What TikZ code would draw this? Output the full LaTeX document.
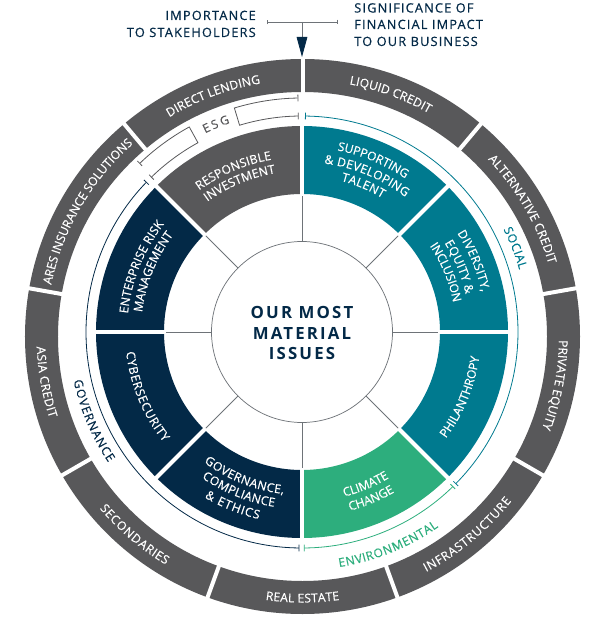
\documentclass[tikz,border=0pt]{standalone}
\usepackage{fontspec}
\setmainfont{Open Sans}
\newfontfamily\ringfont[FakeBold=.35]{Open Sans}
\newfontfamily\widefont[LetterSpace=9,FakeBold=.5]{Open Sans}
\newfontfamily\middlefont[LetterSpace=13]{Open Sans}
\usetikzlibrary{arrows.meta,calc,decorations.text}
\definecolor{ringgrey}{RGB}{88,88,90}
\definecolor{issueteal}{RGB}{0,122,143}
\definecolor{issuenavy}{RGB}{3,41,71}
\definecolor{issuegreen}{RGB}{45,174,125}
\definecolor{spokegrey}{RGB}{110,115,120}
\tikzset{
	ringgap/.style={draw=white,line width=3},
	spoke/.style={draw=spokegrey,line width=.55},
	rangeline/.style={line width=.6},
	headtext/.style={text=issuenavy,font=\widefont\fontsize{9.6}{14}\selectfont,inner sep=0pt},
	centertext/.style={text=issuenavy,font=\middlefont\bfseries\fontsize{12.6}{15.6}\selectfont,align=center,inner sep=0pt},
}
\newcommand{\arclabel}[6]{\path[decorate,decoration={text effects along path,text={#6},text effects/.cd,text along path,fit text to path,characters={text=#5,font=\ringfont\fontsize{9.1}{9}\selectfont}}] (#1) ++(#3:#2) arc[start angle=#3,end angle=#4,radius=#2];}
\begin{document}
\begin{tikzpicture}[x=.75pt,y=.75pt]
		\useasboundingbox (-302,-299) rectangle (298,332);
		\coordinate (inner) at (0,0);
		\coordinate (outer) at (.5,-4.5);

		% funds
		\fill[ringgrey,even odd rule] (outer) circle[radius=277.5] (outer) circle[radius=244.5];
		\draw[ringgap] ($(outer)+(90:240)$) -- ($(outer)+(90:282)$);
		\draw[ringgap] ($(outer)+(50:240)$) -- ($(outer)+(50:282)$);
		\draw[ringgap] ($(outer)+(10:240)$) -- ($(outer)+(10:282)$);
		\draw[ringgap] ($(outer)+(-30:240)$) -- ($(outer)+(-30:282)$);
		\draw[ringgap] ($(outer)+(-70:240)$) -- ($(outer)+(-70:282)$);
		\draw[ringgap] ($(outer)+(-110:240)$) -- ($(outer)+(-110:282)$);
		\draw[ringgap] ($(outer)+(-150:240)$) -- ($(outer)+(-150:282)$);
		\draw[ringgap] ($(outer)+(170:240)$) -- ($(outer)+(170:282)$);
		\draw[ringgap] ($(outer)+(130:240)$) -- ($(outer)+(130:282)$);

		\arclabel{outer}{256.5}{79.5}{60.5}{white}{LIQUID CREDIT}
		\arclabel{outer}{256.5}{43.7}{16.4}{white}{ALTERNATIVE CREDIT}
		\arclabel{outer}{256.5}{-.8}{-21}{white}{PRIVATE EQUITY}
		\arclabel{outer}{266}{-62.3}{-38.2}{white}{INFRASTRUCTURE}
		\arclabel{outer}{266}{-98}{-82}{white}{REAL ESTATE}
		\arclabel{outer}{266}{-139.7}{-120.9}{white}{SECONDARIES}
		\arclabel{outer}{266}{182.2}{197.9}{white}{ASIA CREDIT}
		\arclabel{outer}{256.5}{168.4}{131.3}{white}{ARES INSURANCE SOLUTIONS}
		\arclabel{outer}{256.5}{121.3}{99.4}{white}{DIRECT LENDING}

		% issues
		\fill[ringgrey] (135:206) arc[start angle=135,end angle=90,radius=206] -- (90:138) arc[start angle=90,end angle=135,radius=138] -- cycle;
		\fill[issueteal] (90:206) arc[start angle=90,end angle=-45,radius=206] -- (-45:138) arc[start angle=-45,end angle=90,radius=138] -- cycle;
		\fill[issuegreen] (-45:206) arc[start angle=-45,end angle=-90,radius=206] -- (-90:138) arc[start angle=-90,end angle=-45,radius=138] -- cycle;
		\fill[issuenavy] (-90:206) arc[start angle=-90,end angle=-225,radius=206] -- (-225:138) arc[start angle=-225,end angle=-90,radius=138] -- cycle;
		\draw[ringgap] (90:134) -- (90:209);
		\draw[ringgap] (45:134) -- (45:209);
		\draw[ringgap] (0:134) -- (0:209);
		\draw[ringgap] (-45:134) -- (-45:209);
		\draw[ringgap] (-90:134) -- (-90:209);
		\draw[ringgap] (-135:134) -- (-135:209);
		\draw[ringgap] (180:134) -- (180:209);
		\draw[ringgap] (135:134) -- (135:209);

		\draw[spoke] (90:90.5) -- (90:136);
		\draw[spoke] (45:90.5) -- (45:136);
		\draw[spoke] (0:90.5) -- (0:136);
		\draw[spoke] (-45:90.5) -- (-45:136);
		\draw[spoke] (-90:90.5) -- (-90:136);
		\draw[spoke] (-135:90.5) -- (-135:136);
		\draw[spoke] (180:90.5) -- (180:136);
		\draw[spoke] (135:90.5) -- (135:136);
		\draw[spoke] (inner) circle[radius=90.5];

		\arclabel{inner}{175}{126}{100}{white}{RESPONSIBLE}
		\arclabel{inner}{161}{126}{99.5}{white}{INVESTMENT}
		\arclabel{inner}{185}{79}{56}{white}{SUPPORTING}
		\arclabel{inner}{170}{82.5}{52.5}{white}{{\&} DEVELOPING}
		\arclabel{inner}{156}{75.5}{59}{white}{TALENT}
		\arclabel{inner}{184}{32.5}{12.5}{white}{DIVERSITY,}
		\arclabel{inner}{168}{32}{13}{white}{EQUITY {\&}}
		\arclabel{inner}{154}{34}{11}{white}{INCLUSION}
		\arclabel{inner}{179}{-36.5}{-8}{white}{PHILANTHROPY}
		\arclabel{inner}{170}{-75.6}{-59.2}{white}{CLIMATE}
		\arclabel{inner}{185}{-75}{-60}{white}{CHANGE}
		\arclabel{inner}{163}{-127}{-96.5}{white}{GOVERNANCE,}
		\arclabel{inner}{177}{-124.5}{-99}{white}{COMPLIANCE}
		\arclabel{inner}{192}{-120.5}{-103}{white}{{\&} ETHICS}
		\arclabel{inner}{177}{186.5}{218.5}{white}{CYBERSECURITY}
		\arclabel{inner}{175}{174}{142}{white}{ENTERPRISE RISK}
		\arclabel{inner}{161}{173}{143}{white}{MANAGEMENT}

		\node[centertext] (centerlabel) at (0,-1) {OUR MOST\\MATERIAL\\ISSUES};

		% ranges
		\draw[rangeline,issueteal,{Bar[width=5]}-{Bar[width=5]}] (89.2:216) arc[start angle=89.2,end angle=-44.7,radius=216];
		\draw[rangeline,issuegreen,{Bar[width=5]}-{Bar[width=5]}] (-45.6:216) arc[start angle=-45.6,end angle=-89.5,radius=216];
		\draw[rangeline,issuenavy,{Bar[width=5]}-{Bar[width=5]}] (-90.7:216) arc[start angle=-90.7,end angle=-224,radius=216];
		\draw[rangeline,ringgrey,{Bar[width=5]}-{Bar[width=5]}] (90.9:216) arc[start angle=90.9,end angle=106.8,radius=216] -- (106.8:234) arc[start angle=106.8,end angle=90.9,radius=234];
		\draw[rangeline,ringgrey,{Bar[width=5]}-{Bar[width=5]}] (134.3:216) arc[start angle=134.3,end angle=118.8,radius=216] -- (118.8:234) arc[start angle=118.8,end angle=134,radius=234];

		\arclabel{inner}{226}{27}{16}{issueteal}{SOCIAL}
		\arclabel{inner}{238}{-81}{-55}{issuegreen}{ENVIRONMENTAL}
		\arclabel{inner}{233.5}{192}{214}{issuenavy}{GOVERNANCE}
		\arclabel{inner}{221}{116}{109}{ringgrey}{ESG}

		% header
		\node[headtext,anchor=base east] (importance) at (-46,312) {IMPORTANCE};
		\node[headtext,anchor=base east] (stakeholders) at (-46,295) {TO STAKEHOLDERS};
		\node[headtext,anchor=base west] (significance) at (52,319.5) {SIGNIFICANCE OF};
		\node[headtext,anchor=base west] (financial) at (52,303) {FINANCIAL IMPACT};
		\node[headtext,anchor=base west] (business) at (52,286) {TO OUR BUSINESS};
		\coordinate (scaleleft) at (-35,310);
		\coordinate (scaleright) at (36,310);
		\coordinate (scalemid) at (0,310);
		\coordinate (scalehead) at (0,295);
		\coordinate (scaletip) at (0,275);
		\draw[rangeline,spokegrey,{Bar[width=3.5]}-{Bar[width=3.5]}] (scaleleft) -- (scaleright);
		\draw[rangeline,spokegrey] (scalemid) -- (scalehead);
		\draw[issuenavy,-{Triangle[length=15,width=8]},line width=.6] (scalehead) -- (scaletip);
\end{tikzpicture}
\end{document}
